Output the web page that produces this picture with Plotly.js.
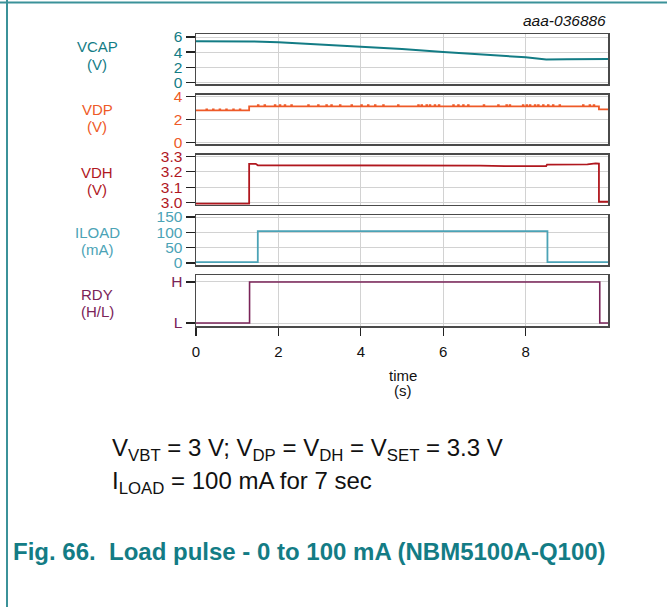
<!DOCTYPE html>
<html><head><meta charset="utf-8">
<script src="https://cdn.plot.ly/plotly-3.0.1.min.js"></script>
<style>body{margin:0;padding:0;background:#fff}#chart{width:667px;height:607px}</style>
</head><body><div id="chart"></div>
<script>
// ---- data ----
const vcapTime = [0, 0.5, 1.0, 1.3, 2.0, 3.0, 4.0, 5.0, 6.0, 7.0, 8.0, 8.5, 8.7, 9.0, 10];
const vcapVal  = [5.43, 5.45, 5.44, 5.42, 5.30, 5.00, 4.77, 4.42, 4.02, 3.68, 3.31, 3.02, 3.06, 3.07, 3.08];

const vdpTime = [0, 1.29, 1.29, 9.78, 9.78, 10];
const vdpVal  = [2.78, 2.78, 3.13, 3.13, 2.87, 2.87];
const vdpSpikeTime = [0.26, 0.42, 0.58, 0.74, 0.91, 1.07,
  1.51, 1.67, 1.92, 2.04, 2.16, 2.32, 2.73, 2.97, 3.17, 3.29, 3.50, 3.78, 4.02, 4.18, 4.35, 4.55, 4.91,
  5.40, 5.48, 5.60, 5.68, 5.80, 5.90, 6.25, 6.37, 6.49, 6.61, 6.99, 7.34, 7.54, 7.62, 7.94, 8.03, 8.11,
  8.23, 8.31, 8.43, 8.55, 8.67, 8.83, 9.40, 9.56, 9.66];
const vdpSpikeVal = [2.84, 2.84, 2.84, 2.84, 2.84, 2.84,
  3.21, 3.21, 3.21, 3.21, 3.21, 3.21, 3.21, 3.21, 3.21, 3.21, 3.21, 3.21, 3.21, 3.21, 3.21, 3.21, 3.21,
  3.21, 3.21, 3.21, 3.21, 3.21, 3.21, 3.21, 3.21, 3.21, 3.21, 3.21, 3.21, 3.21, 3.21, 3.21, 3.21, 3.21,
  3.21, 3.21, 3.21, 3.21, 3.21, 3.21, 3.21, 3.21, 3.21];

const vdhTime = [0, 1.29, 1.29, 1.45, 1.5, 5.0, 6.9, 7.5, 8.5, 8.52, 9.5, 9.7, 9.78, 9.78, 10];
const vdhVal  = [2.994, 2.994, 3.251, 3.251, 3.242, 3.242, 3.240, 3.236, 3.237, 3.246, 3.247, 3.254, 3.252, 3.006, 3.006];

const iloadTime = [0, 1.5, 1.5, 8.53, 8.53, 10];
const iloadVal  = [3, 3, 104, 104, 3, 3];

const rdyTime = [0, 1.3, 1.3, 9.8, 9.8, 10];
const rdyVal  = [0, 0, 1, 1, 0, 0];

const xTicks = [0, 2, 4, 6, 8];
const vcapTicks = [0, 2, 4, 6];
const vdpTicks = [0, 2, 4];
const vdhTicks = [3.0, 3.1, 3.2, 3.3];
const vdhTickText = ['3.0', '3.1', '3.2', '3.3'];
const iloadTicks = [0, 50, 100, 150];
const rdyTicks = [0, 1];
const rdyTickText = ['L', 'H'];

// ---- styling ----
const C = {vcap:'#137c85', vdp:'#ee5a28', vdh:'#b0171e', iload:'#4ba3b6', rdy:'#7a2358',
           frame:'#4a4a4a', grid:'#d2d2d2', border:'#3b9299', fig:'#137c85'};
const FONT = 'Liberation Sans, Arial, sans-serif';
const W = 667, H = 607, ML = 196, MR = 59, MT = 34, MB = 281;
const PW = W - ML - MR, PH = H - MT - MB;
const px = v => (v - ML) / PW;
const py = v => (H - MB - v) / PH;

function yAxis(domain, range, tickvals, color, ticktext) {
  const a = {domain, range, tickvals, showgrid:true, gridcolor:C.grid, gridwidth:1,
    zeroline:false, showline:true, linecolor:C.frame, linewidth:1.5, mirror:true,
    ticks:'outside', ticklen:9, tickwidth:1.3, tickcolor:'#222',
    tickfont:{family:FONT, size:15.5, color}, fixedrange:true};
  if (ticktext) a.ticktext = ticktext;
  return a;
}
function xAxis(anchor, bottom) {
  return {anchor, range:[0,10], tickvals:xTicks, showgrid:true, gridcolor:C.grid, gridwidth:1,
    zeroline:false, showline:true, linecolor:C.frame, linewidth:1.5, mirror:true,
    ticks: bottom ? 'outside' : '', ticklen:8, tickwidth:1.3, tickcolor:'#222',
    ticklabelstandoff: bottom ? 3 : 0,
    showticklabels: bottom, tickfont:{family:FONT, size:15, color:'#111'}, fixedrange:true};
}

const traces = [
  {x:vcapTime, y:vcapVal, xaxis:'x', yaxis:'y', mode:'lines', line:{color:C.vcap, width:2}},
  {x:vdpTime, y:vdpVal, xaxis:'x2', yaxis:'y2', mode:'lines', line:{color:C.vdp, width:1.8}},
  {x:vdpSpikeTime, y:vdpSpikeVal, xaxis:'x2', yaxis:'y2', mode:'markers',
    marker:{color:C.vdp, size:2.5, symbol:'square'}},
  {x:vdhTime, y:vdhVal, xaxis:'x3', yaxis:'y3', mode:'lines', line:{color:C.vdh, width:1.8}},
  {x:iloadTime, y:iloadVal, xaxis:'x4', yaxis:'y4', mode:'lines', line:{color:C.iload, width:1.8}},
  {x:rdyTime, y:rdyVal, xaxis:'x5', yaxis:'y5', mode:'lines', line:{color:C.rdy, width:1.6}}
];

function txt(text, x, y, size, color, anchor) {
  return {xref:'paper', yref:'paper', x:px(x), y:py(y), text, showarrow:false,
    xanchor:anchor || 'center', yanchor:'middle', font:{family:FONT, size, color}};
}
function label(name, unit, color, y1) {
  return [txt(name, 97, y1, 15, color), txt(unit, 97, y1 + 17.5, 15, color)];
}

const layout = {
  width:W, height:H, margin:{l:ML, r:MR, t:MT, b:MB}, showlegend:false,
  paper_bgcolor:'#fff', plot_bgcolor:'#fff',
  xaxis: xAxis('y', false), xaxis2: xAxis('y2', false), xaxis3: xAxis('y3', false),
  xaxis4: xAxis('y4', false), xaxis5: xAxis('y5', true),
  yaxis: yAxis([0.8277, 1], [-0.265, 6.4], vcapTicks, C.vcap),
  yaxis2: yAxis([0.6223, 0.7921], [-0.17, 4.14], vdpTicks, C.vdp),
  yaxis3: yAxis([0.4144, 0.5866], [2.985, 3.31], vdhTicks, C.vdh, vdhTickText),
  yaxis4: yAxis([0.2079, 0.3801], [-7.5, 156.5], iloadTicks, C.iload),
  yaxis5: yAxis([0, 0.1736], [-0.073, 1.163], rdyTicks, C.rdy, rdyTickText),
  shapes: [
    {type:'line', xref:'paper', yref:'paper', x0:px(0), x1:px(667), y0:py(2.5), y1:py(2.5),
      line:{color:C.border, width:2}},
    {type:'line', xref:'paper', yref:'paper', x0:px(7), x1:px(7), y0:py(0), y1:py(607),
      line:{color:C.border, width:2}}
  ],
  annotations: [
    txt('<i>aaa-036886</i>', 608, 21, 15.5, '#111', 'right'),
    ...label('VCAP', '(V)', C.vcap, 47),
    ...label('VDP', '(V)', C.vdp, 109),
    ...label('VDH', '(V)', C.vdh, 172),
    ...label('ILOAD', '(mA)', C.iload, 232),
    ...label('RDY', '(H/L)', C.rdy, 294),
    txt('time', 403, 375, 15, '#111'),
    txt('(s)', 403, 391, 15, '#111'),
    txt('V<sub>VBT</sub> = 3 V; V<sub>DP</sub> = V<sub>DH</sub> = V<sub>SET</sub> = 3.3 V', 110, 449, 24, '#111', 'left'),
    txt('I<sub>LOAD</sub> = 100 mA for 7 sec', 110, 482, 24, '#111', 'left'),
    txt('<b>Fig. 66.\u00a0\u00a0Load pulse - 0 to 100 mA (NBM5100A-Q100)</b>', 11, 551, 24, C.fig, 'left')
  ]
};

Plotly.newPlot('chart', traces, layout, {displayModeBar:false, staticPlot:true});
</script></body></html>
